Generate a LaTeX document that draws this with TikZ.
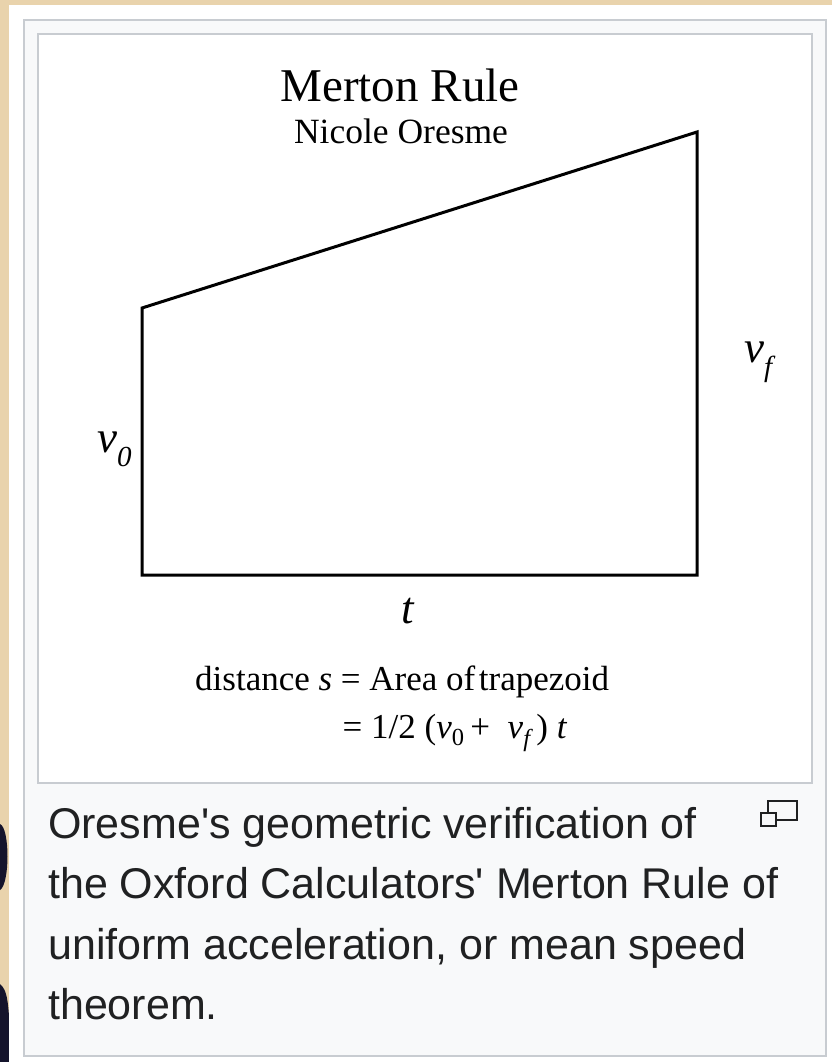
\documentclass[tikz,border=0pt]{standalone}
\usepackage{fontspec}
\setmainfont{Liberation Serif}
\newfontfamily\capfont{Liberation Sans}
\usetikzlibrary{positioning}
\definecolor{parchment}{HTML}{E9D3AC}
\definecolor{inkblue}{HTML}{15142C}
\definecolor{frameline}{HTML}{C8CCD1}
\definecolor{thumbbg}{HTML}{F8F9FA}
\definecolor{captext}{HTML}{202122}
\tikzstyle{frame}=[draw=frameline, line width=2pt]
\tikzstyle{edge}=[line width=3pt, line join=miter]
\tikzstyle{varlbl}=[inner sep=0, font=\fontsize{45}{45}\selectfont\itshape]
\newcommand{\lowsub}[1]{\raisebox{-0.32em}{\fontsize{29}{29}\selectfont #1}}

\begin{document}
\begin{tikzpicture}[x=1pt,y=-1pt]
\useasboundingbox (0,0) rectangle (832,1062);
% page behind the thumbnail
\fill[parchment] (0,0) rectangle (832,1062);
\fill[inkblue] (0,824) .. controls (10,828) and (10,884) .. (0,890) -- cycle;
\fill[inkblue] (0,984) .. controls (7,990) and (10,1000) .. (10,1062) -- (0,1062) -- cycle;
\fill[white] (9,5) rectangle (832,1062);
\draw[frame, fill=thumbbg] (24,20) rectangle (826,1056);
\draw[frame, fill=white] (38,34) rectangle (812,783);

% trapezoid
\coordinate (tl) at (142,308);
\coordinate (bl) at (142,575);
\coordinate (br) at (697,575);
\coordinate (tr) at (697,132);
\draw[edge] (tl) -- (bl) -- (br) -- (tr) -- cycle;

\node[inner sep=0, anchor=base, font=\fontsize{47}{47}\selectfont] (title) at (400,102) {Merton Rule};
\node[inner sep=0, anchor=base, font=\fontsize{35.5}{35.5}\selectfont] (author) at (401,143) {Nicole Oresme};
\node[varlbl, anchor=base west] (v0) at (97,452) {v\lowsub{0}};
\node[varlbl, anchor=base west] (vf) at (744,362) {v\lowsub{f}};
\node[varlbl, anchor=base west] (t) at (401,623) {t};

\node[inner sep=0, anchor=base west, font=\fontsize{35}{48}\selectfont] (area) at (195,690)
  {\begin{tabular}[t]{@{}r@{}l@{}}
   distance \textit{s} & \hspace{0.25em}= Area of\hspace{0.1em}trapezoid\\
   & \hspace{0.3em}= 1/2 (\textit{v}\textsubscript{0}\,+\ \ \textit{v\textsubscript{f}}\,) \textit{t}
   \end{tabular}};

% caption (anchored on the baseline of its last line)
\node[inner sep=0, anchor=base west, align=left, text=captext,
  font=\capfont\fontsize{43}{60.5}\selectfont] (caption) at (48,1019.5)
  {Oresme\textquotesingle s geometric verification of\\
   the Oxford Calculators\textquotesingle\ Merton Rule of\\
   uniform acceleration, or mean speed\\
   theorem.};
% enlarge icon
\draw[line width=2.2pt, draw=captext, fill=thumbbg] (768,801) rectangle (797,820);
\draw[line width=2.2pt, draw=captext, fill=thumbbg] (761,813) rectangle (776,826);
\end{tikzpicture}
\end{document}
